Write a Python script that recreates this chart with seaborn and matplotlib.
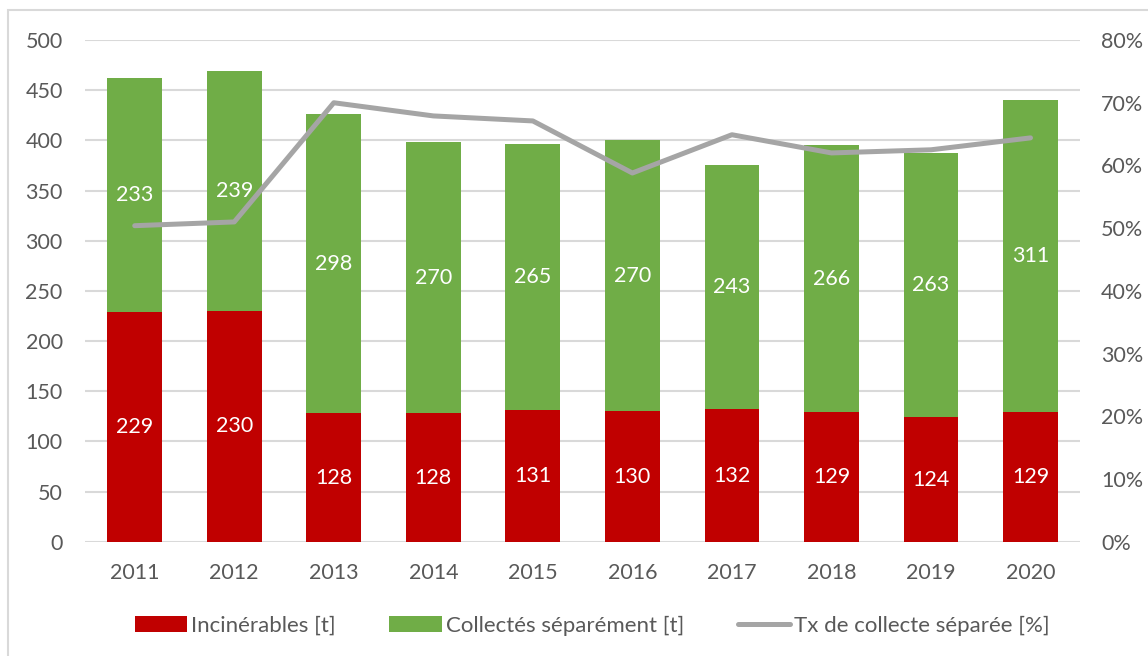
import matplotlib
matplotlib.use("Agg")
import matplotlib.pyplot as plt
import seaborn as sns
import numpy as np
import pandas as pd
from matplotlib.patches import Patch, Rectangle
from matplotlib.lines import Line2D
from matplotlib.ticker import FuncFormatter

years = ["2011", "2012", "2013", "2014", "2015", "2016", "2017", "2018", "2019", "2020"]
incinerables = [229, 230, 128, 128, 131, 130, 132, 129, 124, 129]
collectes = [233, 239, 298, 270, 265, 270, 243, 266, 263, 311]
taux = [50.4, 51.0, 70.0, 67.9, 67.1, 58.8, 64.9, 62.0, 62.5, 64.4]

RED = "#C00000"
GREEN = "#70AD47"
GRAY_LINE = "#A5A5A5"
TXT = "#595959"
GRID = "#D9D9D9"
FS = 15.5

sns.set_theme(style="white")
plt.rcParams["font.family"] = ["Lato", "DejaVu Sans"]

df = pd.DataFrame({"year": years, "inc": incinerables, "col": collectes, "tx": taux})
df["total"] = df["inc"] + df["col"]

fig = plt.figure(figsize=(11.48, 6.56), dpi=100)
ax = fig.add_axes([0.074, 0.174, 0.867, 0.765])

sns.barplot(data=df, x="year", y="total", color=GREEN, width=0.55, ax=ax,
            saturation=1, edgecolor="none", zorder=2)
sns.barplot(data=df, x="year", y="inc", color=RED, width=0.55, ax=ax,
            saturation=1, edgecolor="none", zorder=3)

ax.set_ylim(0, 500)
ax.set_yticks(range(0, 501, 50))
ax.set_xlim(-0.5, len(years) - 0.5)
ax.set_xlabel("")
ax.set_ylabel("")
ax.grid(axis="y", color=GRID, linewidth=1.5, zorder=0)
ax.set_axisbelow(True)
for s in ax.spines.values():
    s.set_visible(False)
ax.tick_params(axis="y", length=0, pad=16, labelsize=FS, labelcolor=TXT)
ax.tick_params(axis="x", length=0, pad=15, labelsize=FS, labelcolor=TXT)

# data labels
for i, (a, b) in enumerate(zip(incinerables, collectes)):
    ax.text(i, a / 2, str(a), ha="center", va="center", color="white", fontsize=FS, zorder=5)
    ax.text(i, a + b / 2, str(b), ha="center", va="center", color="white", fontsize=FS, zorder=5)

ax2 = ax.twinx()
sns.pointplot(data=df, x="year", y="tx", ax=ax2, color=GRAY_LINE, markers="",
              linewidth=3.6, errorbar=None)
for ln in ax2.lines:
    ln.set_solid_joinstyle("round")
    ln.set_solid_capstyle("round")
ax2.set_ylim(0, 80)
ax2.set_yticks(range(0, 81, 10))
ax2.yaxis.set_major_formatter(FuncFormatter(lambda v, p: f"{int(v)}%"))
ax2.set_xlim(-0.5, len(years) - 0.5)
ax2.set_ylabel("")
ax2.set_xlabel("")
for s in ax2.spines.values():
    s.set_visible(False)
ax2.tick_params(axis="y", length=0, pad=15, labelsize=FS, labelcolor=TXT)
ax2.grid(False)

handles = [
    Patch(facecolor=RED, edgecolor="none", label="Incinérables [t]"),
    Patch(facecolor=GREEN, edgecolor="none", label="Collectés séparément [t]"),
    Line2D([0], [0], color=GRAY_LINE, linewidth=3.6, solid_capstyle="round",
           label="Tx de collecte séparée [%]"),
]
leg = fig.legend(handles=handles, loc="center", bbox_to_anchor=(0.516, 0.046), ncol=3,
                 frameon=False, fontsize=16, handlelength=2.35, handleheight=0.7,
                 handletextpad=0.2, columnspacing=2.4)
for t in leg.get_texts():
    t.set_color(TXT)

fig.patches.append(Rectangle((8 / 1148, -0.05), 1.2, 0.985 + 0.05, transform=fig.transFigure,
                             fill=False, edgecolor=GRID, linewidth=1.5))

fig.savefig("out.png", dpi=100)
